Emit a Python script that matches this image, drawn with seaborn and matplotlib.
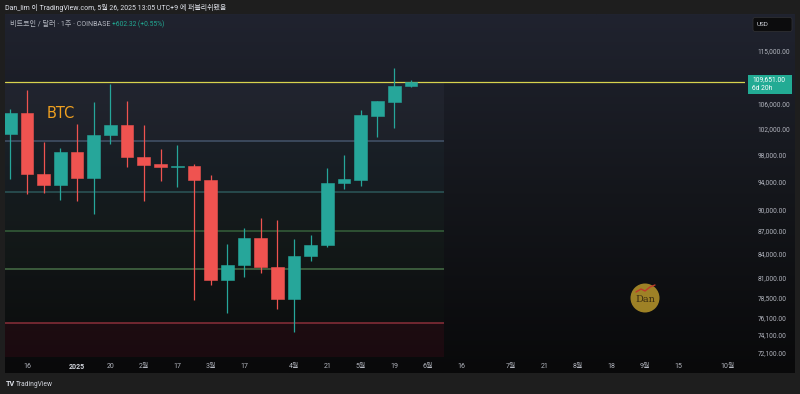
import numpy as np
import pandas as pd
import matplotlib
matplotlib.use("Agg")
import matplotlib.pyplot as plt
import seaborn as sns
from matplotlib.patches import Rectangle, Circle, FancyBboxPatch
from matplotlib.ticker import NullLocator

# ---------------- data ----------------
week_start = ["2024-12-09", "2024-12-16", "2024-12-23", "2024-12-30", "2025-01-06",
              "2025-01-13", "2025-01-20", "2025-01-27", "2025-02-03", "2025-02-10",
              "2025-02-17", "2025-02-24", "2025-03-03", "2025-03-10", "2025-03-17",
              "2025-03-24", "2025-03-31", "2025-04-07", "2025-04-14", "2025-04-21",
              "2025-04-28", "2025-05-05", "2025-05-12", "2025-05-19", "2025-05-26"]
opens = [101070, 104400, 95040, 93430, 98290, 94400, 101000, 102500, 97520, 96500,
         96100, 96200, 94100, 80640, 82530, 86050, 82320, 78320, 83690, 85120,
         93760, 94100, 104030, 106310, 108970]
highs = [105060, 108250, 99870, 98900, 102650, 106200, 109200, 106400, 102600, 98800,
         99400, 96500, 94900, 85260, 87370, 88720, 88490, 86000, 86460, 95880,
         97880, 104950, 106500, 111950, 110000]
lows = [94250, 92130, 92320, 91280, 91200, 89300, 99560, 96100, 91200, 94050,
        93100, 78180, 80000, 76580, 81040, 81480, 77060, 74430, 83090, 84900,
        92800, 93280, 100700, 102110, 108700]
closes = [104400, 95040, 93430, 98290, 94400, 101000, 102500, 97520, 96370, 96100,
          96300, 94100, 80640, 82530, 86050, 82320, 78320, 83690, 85120, 93760,
          94250, 104130, 106420, 108970, 109651]

current_price = 109651
zone_levels = [100000, 92460, 87000, 82030, 75480]
zone_end_date = "2025-06-09"

price_ticks = [115000, 106000, 102000, 98000, 94000, 90000, 87000, 84000,
               81000, 78500, 76100, 74100, 72100]
xtick_dates = ["2024-12-16", "2025-01-06", "2025-01-20", "2025-02-03", "2025-02-17",
               "2025-03-03", "2025-03-17", "2025-04-07", "2025-04-21", "2025-05-05",
               "2025-05-19", "2025-06-02", "2025-06-16", "2025-07-07", "2025-07-21",
               "2025-08-04", "2025-08-18", "2025-09-01", "2025-09-15", "2025-10-06"]
xtick_labels = ["16", "2025", "20", "2월", "17", "3월", "17", "4월", "21", "5월",
                "19", "6월", "16", "7월", "21", "8월", "18", "9월", "15", "10월"]

# ---------------- style ----------------
sns.set_theme(style="dark")
plt.rcParams["font.family"] = ["Roboto", "Noto Sans CJK KR", "DejaVu Sans"]

UP = "#26a69a"
DOWN = "#ef5350"
TXT = "#b2b5be"

W, H = 800, 394
fig = plt.figure(figsize=(W / 100, H / 100), dpi=100, facecolor="#1e1e1e")

def frac(x0, y0, x1, y1):
    return [x0 / W, 1 - y1 / H, (x1 - x0) / W, (y1 - y0) / H]

# background gradient for chart frame
ax_bg = fig.add_axes(frac(5, 14, 795, 373))
top = np.array([32, 35, 47]) / 255
mid = np.array([20, 22, 27]) / 255
bot = np.array([9, 9, 10]) / 255
t = np.linspace(0, 1, 256)[:, None]
grad = np.where(t < 0.5, top + (mid - top) * (t / 0.5), mid + (bot - mid) * ((t - 0.5) / 0.5))
ax_bg.imshow(grad[:, None, :].repeat(4, axis=1), aspect="auto", extent=[0, 1, 0, 1])
ax_bg.set_axis_off()

# main axes
ax = fig.add_axes(frac(5, 14, 745, 357))
ax.set_facecolor("none")

df = pd.DataFrame({"date": pd.to_datetime(week_start), "open": opens, "high": highs,
                   "low": lows, "close": closes})
t0 = df["date"].iloc[0]
df["idx"] = (df["date"] - t0).dt.days / 7
df["up"] = df["close"] >= df["open"]
df["color"] = np.where(df["up"], UP, DOWN)
df["bot"] = df[["open", "close"]].min(axis=1)
df["top"] = df[["open", "close"]].max(axis=1)

ax.set_yscale("log")
ax.set_ylim(71580, 121790)
ax.set_xlim(-0.318, 44.02)

zone_end = (pd.Timestamp(zone_end_date) - t0).days / 7
bounds = [current_price] + zone_levels + [71580]
zone_fill = ["#7080a0", "#3a8088", "#3a8a55", "#3a8a40", "#2a6a30", "#7a1025"]
zone_alpha = [0.07, 0.06, 0.05, 0.05, 0.04, 0.16]
for i in range(len(bounds) - 1):
    ax.fill_between([-1, zone_end], bounds[i + 1], bounds[i], color=zone_fill[i],
                    alpha=zone_alpha[i], lw=0, zorder=0)
line_cols = ["#44546a", "#2c5659", "#36603a", "#466e46", "#8a2f3a"]
for lv, c in zip(zone_levels, line_cols):
    ax.hlines(lv, -1, zone_end, color=c, lw=1.1, zorder=1)

ax.axhline(current_price, color="#d8d24e", lw=0.9, zorder=2)

# candles
ax.vlines(df["idx"], df["low"], df["high"], colors=df["color"], lw=0.9, zorder=3)
ax.bar(df["idx"], df["top"] - df["bot"], bottom=df["bot"], width=0.76,
       color=df["color"], edgecolor=df["color"], linewidth=0.4, zorder=4)

ax.text(2.15, 104400, "BTC", color="#f0a020", fontsize=10.5, va="center",
        ha="left", family=["DejaVu Sans"])

# axes ticks
ax.yaxis.tick_right()
ax.set_yticks(price_ticks)
ax.set_yticklabels([f"{v:,.2f}" for v in price_ticks])
ax.yaxis.set_minor_locator(NullLocator())
ax.tick_params(axis="y", length=0, pad=9, labelsize=4.7, labelcolor=TXT)
xt = [(pd.Timestamp(d) - t0).days / 7 for d in xtick_dates]
ax.set_xticks(xt)
ax.set_xticklabels(xtick_labels)
ax.tick_params(axis="x", length=0, pad=4.5, labelsize=5, labelcolor=TXT)
for lab in ax.get_xticklabels():
    if lab.get_text() == "2025":
        lab.set_color("#d1d4dc")
        lab.set_fontweight("bold")
ax.grid(False)
for s in ax.spines.values():
    s.set_visible(False)

# overlay for decorations in pixel coordinates
ov = fig.add_axes([0, 0, 1, 1])
ov.set_xlim(0, W)
ov.set_ylim(H, 0)
ov.set_axis_off()
ov.set_facecolor("none")

ov.text(5, 7.5, "Dan_lim 이 TradingView.com, 5월 26, 2025 13:05 UTC+9 에 퍼블리쉬됐음",
        color="#e0e3eb", fontsize=5, va="center", ha="left")
ov.text(10, 24, "비트코인 / 달러 · 1주 · COINBASE", color=TXT, fontsize=5.1,
        va="center", ha="left")
ov.text(112, 24, "+602.32 (+0.55%)", color="#22ab94", fontsize=4.8, va="center", ha="left")

# USD box
ov.add_patch(FancyBboxPatch((753, 17.5), 39, 14, boxstyle="round,pad=0,rounding_size=2",
                            fc="#0c0c0d", ec="#2e2e32", lw=0.6))
ov.text(757, 24.5, "USD", color="#d1d4dc", fontsize=4.6, va="center", ha="left")

# price tag
y_disp = ax.transData.transform((0, current_price))[1]
yp = H - y_disp
ov.add_patch(Rectangle((748, yp - 7), 44, 19, fc="#22ab94", ec="none"))
ov.text(752, yp - 2, f"{current_price:,.2f}", color="white", fontsize=4.8, va="center", ha="left")
ov.text(752, yp + 7, "6d 20h", color="white", fontsize=4.8, va="center", ha="left")

# TradingView logo
ov.text(6, 384, "TV", color="#e0e3eb", fontsize=5.2, fontweight="bold", va="center", ha="left")
ov.text(16, 384, "TradingView", color="#d1d4dc", fontsize=4.8, va="center", ha="left")

# Dan watermark
ov.add_patch(Circle((645, 298), 14.5, fc="#b8962a", ec="none", alpha=0.85))
ov.plot([636, 641, 645, 650, 655], [292, 289, 291, 287, 285], color="#c0392b", lw=1.0)
ov.text(645, 300, "Dan", color="#3a2c12", fontsize=7, va="center", ha="center",
        family=["DejaVu Serif"])

fig.savefig("out.png", dpi=100, facecolor=fig.get_facecolor())
